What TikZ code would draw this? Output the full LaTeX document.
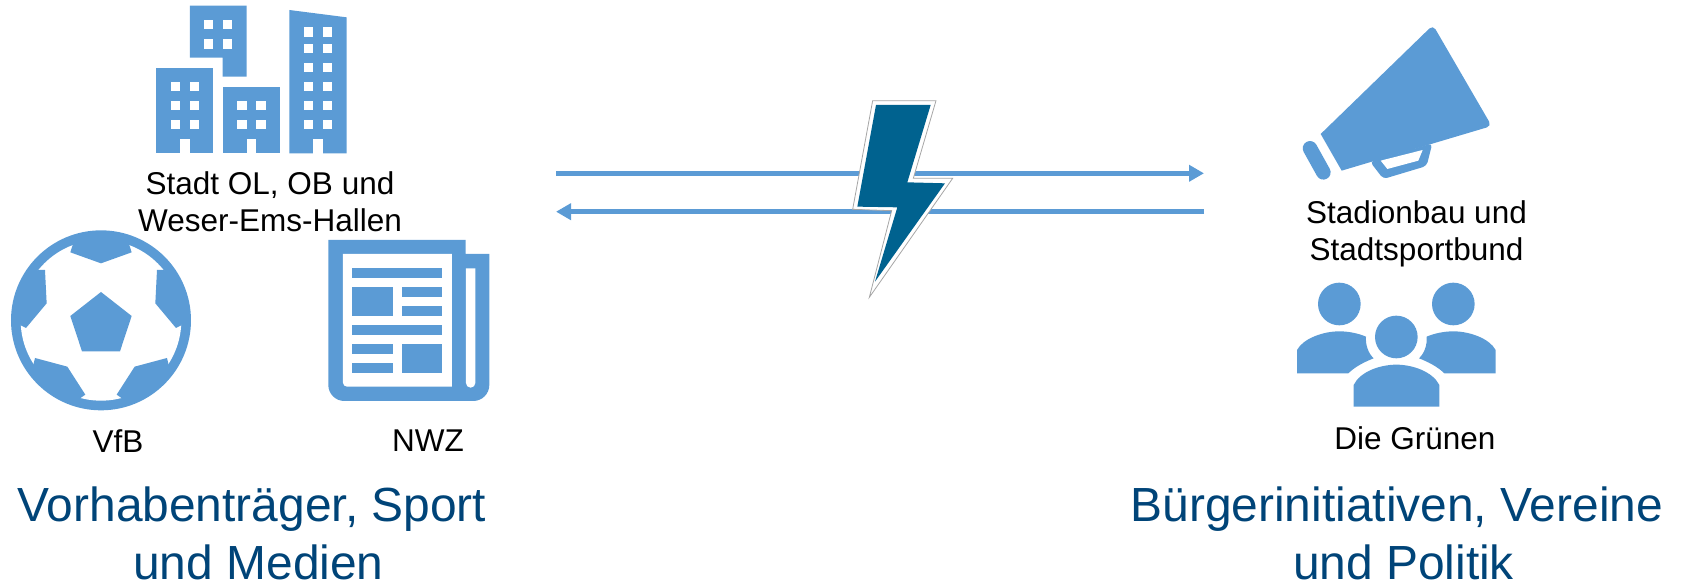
\documentclass[tikz,border=0pt]{standalone}
\usepackage{fontspec}
\setmainfont{Liberation Sans}
\usepackage{xcolor}
\usetikzlibrary{arrows.meta,positioning}
\definecolor{iconblue}{HTML}{5B9BD5}
\definecolor{boltblue}{HTML}{00628F}
\definecolor{titleblue}{HTML}{004478}
\tikzset{
    icon/.style={fill=iconblue,draw=none},
    gap/.style={fill=white,draw=none},
    flow/.style={draw=iconblue,line width=2.7pt,-{Triangle[length=7.5pt,width=8pt]}},
    small/.style={font=\fontsize{15.75}{18.3}\selectfont,align=center,text=black},
    big/.style={font=\fontsize{23.95}{29}\selectfont,align=center,text=titleblue,inner sep=0pt},
    zoomed/.style={x=1/6*1pt,y=-1/6*1pt}
}
\newcommand{\windows}[2]{%
    \foreach \wx in {#1} \foreach \wy in {#2}
        \fill[gap] (\wx,\wy) rectangle ++(28,28);}
\begin{document}
\begin{tikzpicture}[>=Stealth,x=0.5pt,y=-0.5pt]
    \useasboundingbox (0,0) rectangle (1682,582);

    \begin{scope}[shift={(130,0)},zoomed]
        \fill[icon] (180,17) -- (350,17) -- (350,230) -- (278,230) -- (278,173) -- (180,173) -- cycle;
        \fill[icon] (79,203) rectangle (250,460);
        \fill[icon] (278,260) rectangle (450,460);
        \fill[icon] (478,30) -- (650,52) -- (650,460) -- (478,460) -- cycle;
        \windows{222,279}{60,118}
        \windows{122,180}{245,303,360}
        \windows{322,379}{303,360}
        \windows{521,578}{82,132,189,246,303,360}
        \fill[gap] (150,416) rectangle (179,461);
        \fill[gap] (350,416) rectangle (378,461);
        \fill[gap] (550,416) rectangle (578,461);
    \end{scope}

    \begin{scope}[shift={(0,220)},zoomed]
        \fill[icon] (303,301) circle (270);
        \fill[gap] (303,301) circle (241);
        \fill[icon] (303,216) -- (395,288) -- (360,394) -- (246,394) -- (211,288) -- cycle;
        \fill[icon] (303,130) -- (395,97) -- (388,75) -- (392,62) -- (303,45) -- (214,62) -- (218,75) -- (211,97) -- cycle;
        \fill[icon] (140,250) -- (135,150) -- (115,150) -- (90,165) -- (45,260) -- (62,316) -- (78,324) -- cycle;
        \fill[icon] (466,250) -- (471,150) -- (491,150) -- (516,165) -- (561,260) -- (544,316) -- (528,324) -- cycle;
        \fill[icon] (105,414) -- (202,440) -- (256,524) -- (240,535) -- (236,548) -- (180,530) -- (85,445) -- (100,435) -- cycle;
        \fill[icon] (501,414) -- (404,440) -- (350,524) -- (366,535) -- (370,548) -- (426,530) -- (521,445) -- (506,435) -- cycle;

        \fill[icon] (985,60) -- (1397,60) -- (1397,102) -- (1468,102) [rounded corners=8pt] -- (1468,543) -- (985,543) [sharp corners] -- cycle;
        \fill[gap] (1029,102) -- (1356,102) -- (1356,500) [rounded corners=2pt] -- (1029,500) [sharp corners] -- cycle;
        \fill[gap] (1398,145) -- (1426,145) [rounded corners=2.3pt] -- (1426,503) -- (1398,503) [sharp corners] -- cycle;
        \fill[icon] (1057,145) rectangle (1327,173);
        \fill[icon] (1057,202) rectangle (1178,287);
        \fill[icon] (1206,202) rectangle (1327,230);
        \fill[icon] (1206,259) rectangle (1327,287);
        \fill[icon] (1057,316) rectangle (1327,344);
        \fill[icon] (1057,373) rectangle (1178,401);
        \fill[icon] (1057,430) rectangle (1178,458);
        \fill[icon] (1206,373) rectangle (1327,458);
    \end{scope}

    \begin{scope}[shift={(1270,10)},zoomed]
        \fill[icon] (152,372) [rounded corners=2.5pt] -- (489,45) -- (665,348) [sharp corners] -- (215,482) -- cycle;
        \fill[icon,rounded corners=2pt] (300,455) -- (340,507) -- (470,468) -- (487,400) -- cycle;
        \fill[gap] (332,452) -- (352,477) -- (445,452) -- (458,420) -- cycle;
        \draw[iconblue,line width=7.3pt,line cap=round] (120,415) -- (160,487);
    \end{scope}

    \begin{scope}[shift={(1280,270)},zoomed]
        \fill[icon] (178,102) circle (64);
        \fill[icon] (520,102) circle (64);
        \fill[icon] (349,201) circle (64);
        \fill[icon] (221,410) -- (221,345) .. controls (240,305) and (300,284) .. (349,284) .. controls (398,284) and (458,305) .. (478,345) -- (478,410) -- cycle;
        \fill[icon] (51,310) -- (51,240) .. controls (70,205) and (130,184) .. (178,184) .. controls (205,184) and (235,190) .. (258,200) .. controls (256,225) and (265,250) .. (281,265) .. controls (255,275) and (225,290) .. (205,310) -- cycle;
        \fill[icon] (647,310) -- (647,240) .. controls (628,205) and (568,184) .. (520,184) .. controls (493,184) and (463,190) .. (440,200) .. controls (442,225) and (433,250) .. (417,265) .. controls (443,275) and (473,290) .. (493,310) -- cycle;
    \end{scope}

    \coordinate (topl) at (556,173.3);
    \coordinate (topr) at (1204,173.3);
    \coordinate (botr) at (1204,211.7);
    \coordinate (botl) at (556,211.7);
    \draw[flow] (topl) -- (topr);
    \draw[flow] (botr) -- (botl);

    \begin{scope}[shift={(820,90)},zoomed]
        \filldraw[fill=white,draw=black!35,line width=0.4pt] (158,32) -- (348,32) -- (280,265) -- (398,265) -- (148,622) -- (215,362) -- (98,358) -- cycle;
        \fill[boltblue] (168,45) -- (332,45) -- (262,277) -- (375,280) -- (165,575) -- (232,352) -- (112,350) -- cycle;
    \end{scope}

    \node[small] (stadt) at (270,202) {Stadt OL, OB und\\Weser-Ems-Hallen};
    \node[small] (vfb) at (118,441) {VfB};
    \node[small] (nwz) at (428,441) {NWZ};
    \node[small] (stadion) at (1416.5,234) {Stadionbau und\\Stadtsportbund};
    \node[small] (gruene) at (1415,438) {Die Grünen};
    \node[big] (links) at (258.5,533) {Vorhabenträger, Sport\hspace*{0.278em}\\und Medien};
    \node[big] (rechts) at (1403.5,533) {Bürgerinitiativen, Vereine\hspace*{0.278em}\\und Politik};
\end{tikzpicture}
\end{document}
